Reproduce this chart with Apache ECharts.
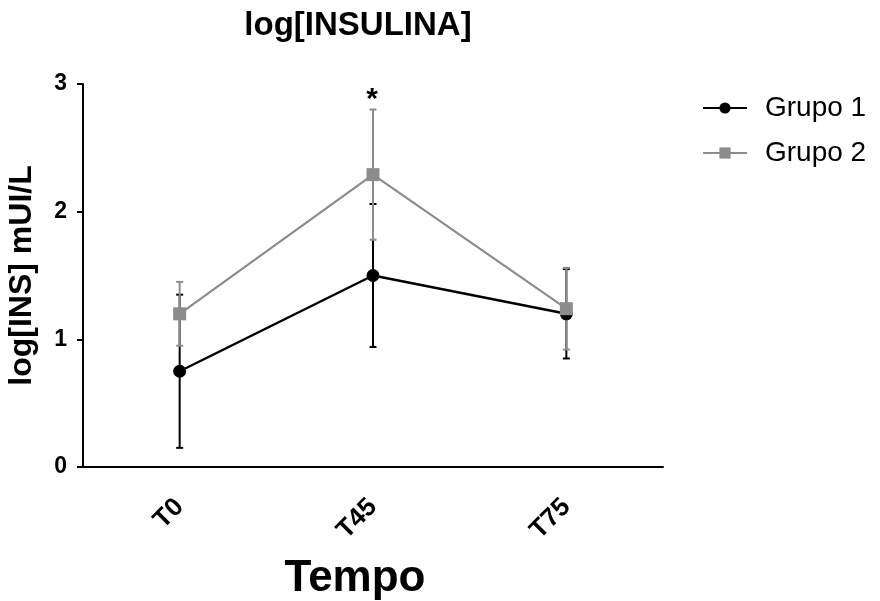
<!DOCTYPE html>
<html>
<head>
<meta charset="utf-8">
<script src="https://cdn.jsdelivr.net/npm/echarts@6/dist/echarts.min.js"></script>
<style>
  html, body { margin: 0; padding: 0; background: #fff; }
  #chart { width: 880px; height: 601px; }
</style>
</head>
<body>
<div id="chart"></div>
<script>
// dados
var categories = ['T0', 'T45', 'T75'];
var grupo1Mean = [0.75, 1.50, 1.20];
var grupo1Err = [0.60, 0.56, 0.35];
var grupo2Mean = [1.20, 2.29, 1.24];
var grupo2Err = [0.25, 0.51, 0.32];
var significance = ['', '*', ''];

var FONT = '"Liberation Sans", Arial, sans-serif';
var BLACK = '#000000';
var GRAY = '#8c8c8c';

function errorData(mean, err) {
    return mean.map(function (m, i) {
        return [i, m - err[i], m + err[i], significance[i]];
    });
}

// desenha a barra de erro com as duas pontinhas
function errorRenderer(color, width, withMark) {
    return function (params, api) {
        var x = api.value(0);
        var lo = api.coord([x, api.value(1)]);
        var hi = api.coord([x, api.value(2)]);
        var cap = 3.5;
        var style = { stroke: color, lineWidth: width };
        var children = [
            { type: 'line', shape: { x1: lo[0], y1: lo[1], x2: hi[0], y2: hi[1] }, style: style },
            { type: 'line', shape: { x1: lo[0] - cap, y1: lo[1], x2: lo[0] + cap, y2: lo[1] }, style: style },
            { type: 'line', shape: { x1: hi[0] - cap, y1: hi[1], x2: hi[0] + cap, y2: hi[1] }, style: style }
        ];
        var mark = api.value(3);
        if (withMark && mark) {
            children.push({
                type: 'text',
                style: {
                    x: hi[0] - 1, y: hi[1] + 5, text: mark,
                    fill: BLACK, font: 'bold 30px ' + FONT,
                    textAlign: 'center', textVerticalAlign: 'bottom'
                }
            });
        }
        return { type: 'group', children: children };
    };
}

var chart = echarts.init(document.getElementById('chart'));

chart.setOption({
    backgroundColor: '#ffffff',
    animation: false,
    title: {
        text: 'log[INSULINA]',
        left: 353,
        top: 4,
        textAlign: 'center',
        textStyle: { fontFamily: FONT, fontSize: 33, fontWeight: 'bold', color: BLACK }
    },
    legend: {
        orient: 'vertical',
        left: 697,
        top: 89,
        itemWidth: 44,
        itemHeight: 14,
        itemGap: 17,
        data: ['Grupo 1', 'Grupo 2'],
        textStyle: { fontFamily: FONT, fontSize: 28, color: BLACK, padding: [0, 0, 0, 13] }
    },
    grid: {
        left: 83, right: 217, top: 84, bottom: 134,
        containLabel: false,
        outerBoundsMode: 'none'
    },
    xAxis: {
        type: 'category',
        data: categories,
        boundaryGap: true,
        name: 'Tempo',
        nameLocation: 'middle',
        nameGap: 90,
        nameTextStyle: {
            fontFamily: FONT, fontSize: 44, fontWeight: 'bold', color: BLACK,
            padding: [0, 36, 0, 0]
        },
        axisLine: { lineStyle: { color: BLACK, width: 2 } },
        axisTick: { alignWithLabel: true, length: 12, lineStyle: { color: BLACK, width: 2 } },
        axisLabel: {
            rotate: 45, margin: 36,
            fontFamily: FONT, fontSize: 26, fontWeight: 'bold', color: BLACK
        },
        splitLine: { show: false }
    },
    yAxis: {
        type: 'value',
        min: 0,
        max: 3,
        interval: 1,
        name: 'log[INS] mUI/L',
        nameLocation: 'middle',
        nameGap: 45,
        nameTextStyle: { fontFamily: FONT, fontSize: 32, fontWeight: 'bold', color: BLACK },
        axisLine: { show: true, lineStyle: { color: BLACK, width: 2 } },
        axisTick: { show: true, length: 6, lineStyle: { color: BLACK, width: 2 } },
        axisLabel: { margin: 16, fontFamily: FONT, fontSize: 23, fontWeight: 'bold', color: BLACK },
        splitLine: { show: false }
    },
    series: [
        {
            name: 'Grupo 1 erro',
            type: 'custom',
            renderItem: errorRenderer(BLACK, 2, false),
            data: errorData(grupo1Mean, grupo1Err),
            encode: { x: 0, y: [1, 2] },
            z: 1
        },
        {
            name: 'Grupo 2 erro',
            type: 'custom',
            renderItem: errorRenderer(GRAY, 2, true),
            data: errorData(grupo2Mean, grupo2Err),
            encode: { x: 0, y: [1, 2] },
            z: 2
        },
        {
            name: 'Grupo 1',
            type: 'line',
            data: grupo1Mean,
            symbol: 'circle',
            symbolSize: 13,
            itemStyle: { color: BLACK },
            lineStyle: { color: BLACK, width: 2.5 },
            z: 3
        },
        {
            name: 'Grupo 2',
            type: 'line',
            data: grupo2Mean,
            symbol: 'rect',
            symbolSize: 13,
            itemStyle: { color: GRAY },
            lineStyle: { color: GRAY, width: 2.2 },
            z: 4
        }
    ]
});
</script>
</body>
</html>
